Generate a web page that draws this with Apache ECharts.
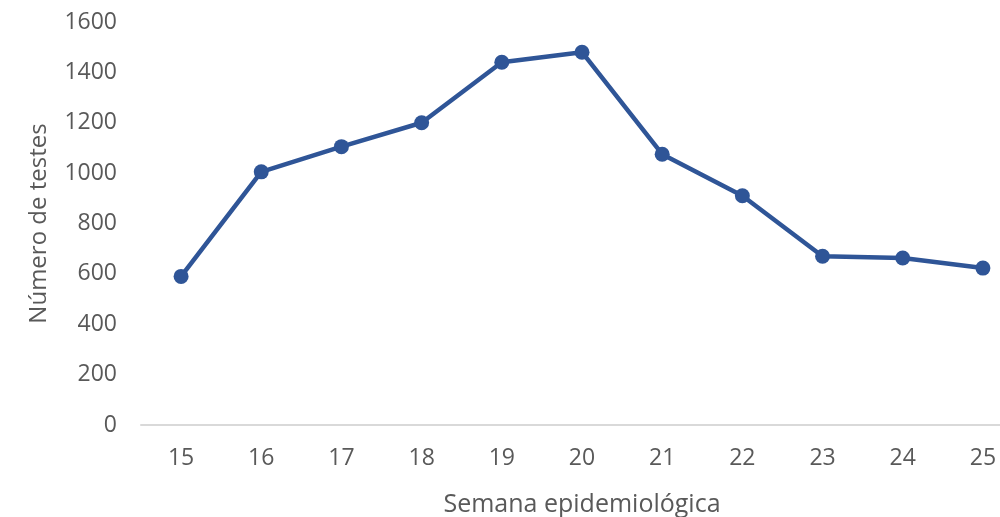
<!DOCTYPE html>
<html>
<head>
<meta charset="utf-8">
<script src="https://cdn.jsdelivr.net/npm/echarts@6/dist/echarts.min.js"></script>
<style>
  html, body { margin: 0; padding: 0; background: #fff; overflow: hidden; }
  /* o eixo continua além da borda direita, como no original */
  #chart { width: 1023px; height: 517px; }
</style>
</head>
<body>
<div id="chart"></div>
<script>
var semanas = ['15', '16', '17', '18', '19', '20', '21', '22', '23', '24', '25']
var testes = [590, 1005, 1105, 1200, 1440, 1480, 1075, 910, 670, 663, 623]
var yMin = 0, yMax = 1600, yStep = 200

var chart = echarts.init(document.getElementById('chart'))
var fonte = '"Open Sans", "DejaVu Sans", sans-serif'

var option = {
  animation: false,
  grid: {
    left: 141,
    top: 22,
    bottom: 92,
    right: 0,
    outerBoundsMode: 'none'
  },
  xAxis: {
    type: 'category',
    data: semanas,
    name: 'Semana epidemiológica',
    nameLocation: 'middle',
    nameGap: 67,
    nameTextStyle: { color: '#595959', fontSize: 25, fontFamily: fonte },
    axisLine: { lineStyle: { color: '#d9d9d9', width: 2 } },
    axisTick: { show: false },
    axisLabel: { color: '#595959', fontSize: 23, fontFamily: fonte, margin: 22 }
  },
  yAxis: {
    type: 'value',
    min: yMin,
    max: yMax,
    interval: yStep,
    name: 'Número de testes',
    nameLocation: 'middle',
    nameGap: 90,
    nameTextStyle: { color: '#595959', fontSize: 24, fontFamily: fonte },
    axisLine: { show: false },
    axisTick: { show: false },
    splitLine: { show: false },
    axisLabel: {
      color: '#595959', fontSize: 23, fontFamily: fonte, margin: 24,
      formatter: function (v) { return String(v) }
    }
  },
  series: [{
    type: 'line',
    data: testes,
    symbol: 'circle',
    symbolSize: 15,
    lineStyle: { color: '#2f5597', width: 4.5 },
    itemStyle: { color: '#2f5597' }
  }]
}
chart.setOption(option)
</script>
</body>
</html>
